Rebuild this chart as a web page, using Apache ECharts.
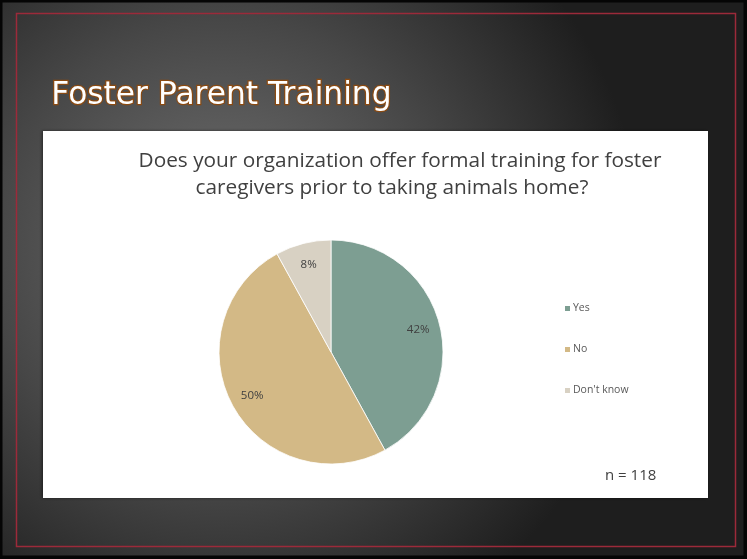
<!DOCTYPE html>
<html>
<head>
<meta charset="utf-8">
<script src="https://cdn.jsdelivr.net/npm/echarts@6/dist/echarts.min.js"></script>
<style>
  html, body { margin: 0; padding: 0; background: #000; }
  #chart { width: 747px; height: 559px; }
</style>
</head>
<body>
<div id="chart"></div>
<script>
// answers and shares (percent)
const categories = ['Yes', 'No', "Don't know"];
const shares = [42, 50, 8];
const colors = ['#7D9E92', '#D3B986', '#D8D1C3'];
const slideTitle = 'Foster Parent Training';
const questionLines = ['Does your organization offer formal training for foster', 'caregivers prior to taking animals home?'];
const sampleNote = 'n = 118';

const pieData = categories.map((name, i) => ({ name: name, value: shares[i] }));

const questionStyle = { fontFamily: 'Open Sans', fontSize: 20.8, fontWeight: 'normal', color: '#404040' };

const chart = echarts.init(document.getElementById('chart'));
chart.setOption({
  animation: false,
  color: colors,
  graphic: [
    {
      type: 'rect', z: -10, silent: true,
      shape: { x: 0, y: 0, width: 747, height: 559 },
      style: {
        fill: {
          type: 'radial', x: 0.3, y: 0.45, r: 0.75,
          colorStops: [
            { offset: 0, color: '#737373' },
            { offset: 0.55, color: '#474747' },
            { offset: 1, color: '#1e1e1e' }
          ]
        }
      }
    },
    {
      type: 'rect', z: -9, silent: true,
      shape: { x: 0.5, y: 0.5, width: 745, height: 557 },
      style: { fill: null, stroke: '#050505', lineWidth: 4 }
    },
    {
      type: 'rect', z: -8, silent: true,
      shape: { x: 16.5, y: 13.5, width: 719, height: 533 },
      style: { fill: null, stroke: '#9C2A3A', lineWidth: 1.5 }
    },
    {
      type: 'rect', z: -7, silent: true,
      shape: { x: 43, y: 131, width: 665, height: 367 },
      style: { fill: '#ffffff', shadowColor: 'rgba(0,0,0,0.5)', shadowBlur: 3, shadowOffsetX: -1 }
    },
    {
      type: 'text', z: 5, left: 50, top: 79,
      style: {
        text: slideTitle,
        fontFamily: 'DejaVu Sans', fontSize: 31.3, fontWeight: 'normal',
        fill: '#ffffff', stroke: '#8A4A12', lineWidth: 2.5
      }
    },
    {
      type: 'text', z: 5, left: 605, top: 468,
      style: { text: sampleNote, fontFamily: 'Open Sans', fontSize: 15, fill: '#404040' }
    }
  ],
  title: [
    { text: questionLines[0], left: 400, top: 151, textAlign: 'center', padding: 0, textStyle: questionStyle },
    { text: questionLines[1], left: 392, top: 178, textAlign: 'center', padding: 0, textStyle: questionStyle }
  ],
  legend: {
    orient: 'vertical', left: 558, top: 298,
    itemWidth: 7, itemHeight: 7, itemGap: 30, icon: 'rect',
    textStyle: { fontFamily: 'Open Sans', fontSize: 10.5, color: '#595959', padding: [0, 0, 0, -3] },
    data: categories
  },
  series: [
    {
      type: 'pie', center: [331, 352], radius: [0, 112],
      startAngle: 90, clockwise: true,
      label: { show: false }, labelLine: { show: false },
      itemStyle: { borderColor: '#ffffff', borderWidth: 0.8 },
      emphasis: { disabled: true },
      data: pieData
    },
    {
      // transparent ring that only carries the percentage labels
      type: 'pie', center: [331, 352], radius: [62, 112],
      startAngle: 90, clockwise: true, silent: true,
      itemStyle: { color: 'rgba(0,0,0,0)' },
      label: {
        show: true, position: 'inside', formatter: '{c}%',
        fontFamily: 'Open Sans', fontSize: 11.5, color: '#404040'
      },
      labelLine: { show: false },
      emphasis: { disabled: true },
      data: pieData
    }
  ]
});
</script>
</body>
</html>
